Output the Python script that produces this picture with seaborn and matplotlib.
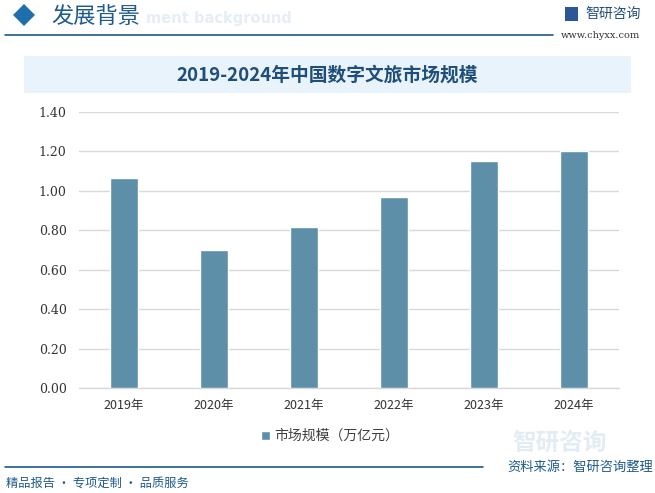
import matplotlib
matplotlib.use("Agg")
import matplotlib.pyplot as plt
import matplotlib.patches as mpatches
import seaborn as sns
import pandas as pd

years = ["2019年", "2020年", "2021年", "2022年", "2023年", "2024年"]
values = [1.065, 0.70, 0.817, 0.969, 1.152, 1.202]
yticks = [0.0, 0.2, 0.4, 0.6, 0.8, 1.0, 1.2, 1.4]
series_name = "市场规模（万亿元）"
title = "2019-2024年中国数字文旅市场规模"

sns.set_theme(style="white")
plt.rcParams['font.family'] = ['Noto Sans CJK SC', 'DejaVu Sans']

W, H = 655, 493
fig = plt.figure(figsize=(W / 100, H / 100), dpi=100)
fig.patch.set_facecolor("white")

def fx(px):
    return px / W

def fy(py):
    return 1 - py / H

ax = fig.add_axes([fx(79), fy(388), fx(619) - fx(79), fy(112) - fy(388)])
ax.set_facecolor("none")
df = pd.DataFrame({"year": years, "value": values, "series": series_name})
sns.barplot(data=df, x="year", y="value", hue="series", palette=["#5d90a8"],
            width=0.31, ax=ax, saturation=1, zorder=3)
ax.set_ylim(0, 1.4)
ax.set_yticks(yticks)
ax.set_yticklabels([f"{v:.2f}" for v in yticks], family=['DejaVu Serif'], fontsize=9, color="#333333")
ax.set_xlim(-0.5, len(years) - 0.5)
ax.tick_params(axis="x", labelsize=9, colors="#333333", pad=8, length=0)
ax.tick_params(axis="y", pad=9, length=0)
ax.set_xlabel("")
ax.set_ylabel("")
ax.grid(axis="y", color="#d9d9d9", linewidth=1.0, zorder=0)
ax.set_axisbelow(True)
for s in ["top", "right", "left"]:
    ax.spines[s].set_visible(False)
ax.spines["bottom"].set_color("#d9d9d9")
ax.spines["bottom"].set_linewidth(1.0)

leg = ax.legend(loc="center", bbox_to_anchor=((330 - 79) / 540, (fy(436) - fy(388)) / (fy(112) - fy(388))),
                frameon=False, fontsize=10, handlelength=0.6, handleheight=0.6,
                handletextpad=0.3)
for t in leg.get_texts():
    t.set_color("#404040")

# title band
fig.patches.append(mpatches.Rectangle((fx(24), fy(93)), fx(631) - fx(24), fy(56) - fy(93),
                                      transform=fig.transFigure, facecolor="#e8f3fb",
                                      edgecolor="none", zorder=1))
fig.text(fx(327), fy(75), title, fontsize=13.5, fontweight="bold", color="#1f4e79",
         ha="center", va="center", zorder=2)

# header
cx, cy, r = 24, 15, 11
fig.patches.append(mpatches.Polygon([(fx(cx), fy(cy - r)), (fx(cx + r), fy(cy)),
                                     (fx(cx), fy(cy + r)), (fx(cx - r), fy(cy))],
                                    closed=True, transform=fig.transFigure,
                                    facecolor="#1f6fad", edgecolor="none"))
fig.text(fx(146), fy(19), "ment background", fontsize=10.5, fontweight="bold",
         color="#e3eef7", ha="left", va="center", family=['DejaVu Sans'])
fig.text(fx(51), fy(16), "发展背景", fontsize=16, color="#1f5a8c", ha="left", va="center")
fig.add_artist(plt.Line2D([fx(5), fx(553)], [fy(35), fy(35)], color="#1f5a8c", linewidth=1.2))
fig.text(fx(585), fy(14), "智研咨询", fontsize=10, color="#1f4e79", ha="left", va="center")
fig.patches.append(mpatches.Rectangle((fx(565), fy(21)), fx(13), fy(7) - fy(21),
                                      transform=fig.transFigure, facecolor="#2b5797",
                                      edgecolor="none"))
fig.text(fx(640), fy(36), "www.chyxx.com", fontsize=7, color="#333333", ha="right",
         va="center", family=['DejaVu Serif'])

# footer
fig.text(fx(560), fy(443), "智研咨询", fontsize=17, color="#e3ecf4", ha="center",
         va="center", fontweight="bold")
fig.add_artist(plt.Line2D([fx(5), fx(483)], [fy(467), fy(467)], color="#1f5a8c", linewidth=1.2))
fig.text(fx(6), fy(483), "精品报告 · 专项定制 · 品质服务", fontsize=8.8, color="#1f5a8c",
         ha="left", va="center")
fig.text(fx(653), fy(467), "资料来源：智研咨询整理", fontsize=9.5, color="#1f5a8c",
         ha="right", va="center")

fig.savefig("out.png", dpi=100)
